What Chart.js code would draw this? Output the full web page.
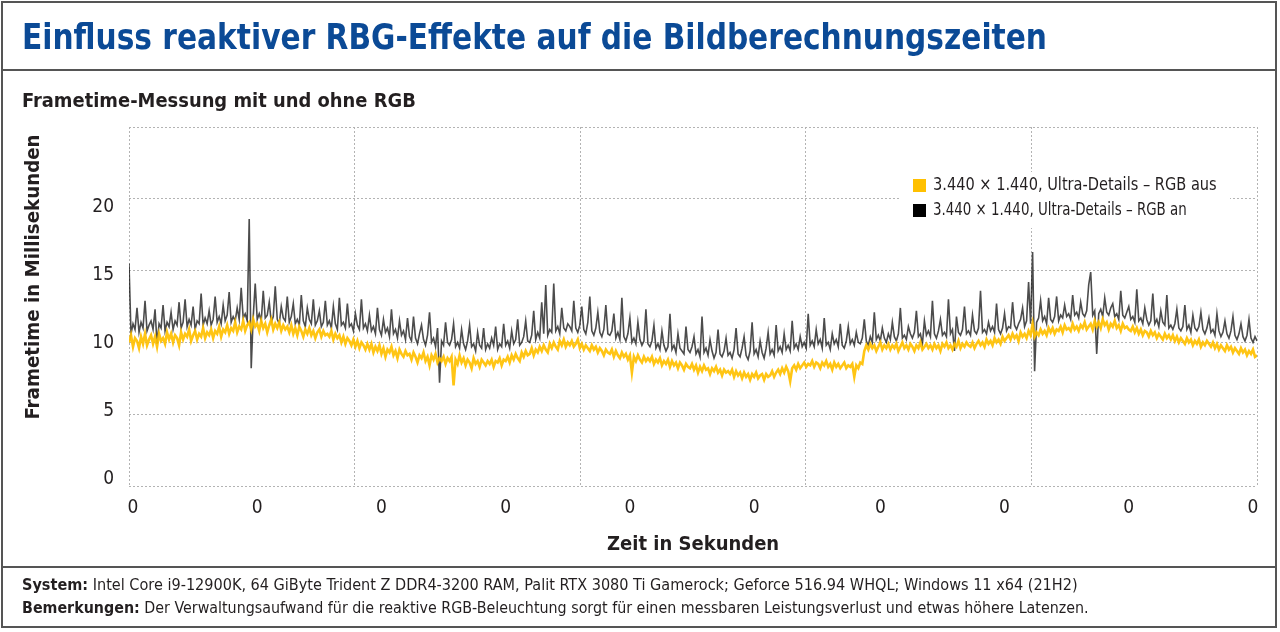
<!DOCTYPE html>
<html lang="de">
<head>
  <meta charset="UTF-8" />
  <title>Einfluss reaktiver RBG-Effekte auf die Bildberechnungszeiten</title>
  <script src="https://cdn.jsdelivr.net/npm/chart.js"></script>
  <style>
    body {
      margin: 0;
      width: 1280px;
      height: 632px;
      position: relative;
      overflow: hidden;
      background: #fff;
      font-family: "Liberation Sans Narrow", "DejaVu Sans Condensed", "Arial Narrow", sans-serif;
      color: #231f20;
    }
    .frame {
      position: absolute;
      left: 1px; top: 1px;
      width: 1276px; height: 627px;
      box-sizing: border-box;
      border: 2px solid #555;
    }
    .rule {
      position: absolute;
      left: 1px; width: 1276px; height: 2px;
      background: #555;
    }
    .txt {
      position: absolute;
      white-space: nowrap;
      line-height: 1;
      transform-origin: left center;
    }
    #title { left: 22px; top: 19px; font-size: 36px; font-weight: bold; color: #0b4a96; }
    #subtitle { left: 22px; top: 90px; font-size: 20px; font-weight: bold; }
    #yTitle { font-size: 20px; font-weight: bold; transform-origin: center center; }
    #xTitle { font-size: 20px; font-weight: bold; transform-origin: center center; }
    .foot { font-size: 16px; left: 22px; }
    .foot b { font-weight: bold; }
    #chart { position: absolute; left: 0; top: 0; }
    .legend {
      position: absolute;
      left: 900px; top: 172px;
      width: 330px; height: 56px;
      background: #fff;
    }
    .legend .sw {
      position: absolute;
      left: 13px;
      width: 13px; height: 13px;
    }
    .legend .txt { left: 33px; font-size: 17px; }
  </style>
</head>
<body>
  <canvas id="chart" width="1280" height="632"></canvas>

  <div class="frame"></div>
  <div class="rule" style="top:69px"></div>
  <div class="rule" style="top:566px"></div>

  <div id="title" class="txt" data-w="1025">Einfluss reaktiver RBG-Effekte auf die Bildberechnungszeiten</div>
  <div id="subtitle" class="txt" data-w="394">Frametime-Messung mit und ohne RGB</div>
  <div id="yTitle" class="txt" data-w="285" data-cx="31" data-cy="277" data-rot="1">Frametime in Millisekunden</div>
  <div id="xTitle" class="txt" data-w="172" data-cx="693" data-cy="543">Zeit in Sekunden</div>

  <div class="legend" id="legend"></div>

  <div class="txt foot" style="top:577px" data-w="1056"><b>System:</b> Intel Core i9-12900K, 64 GiByte Trident Z DDR4-3200 RAM, Palit RTX 3080 Ti Gamerock; Geforce 516.94 WHQL; Windows 11 x64 (21H2)</div>
  <div class="txt foot" style="top:600px" data-w="1067"><b>Bemerkungen:</b> Der Verwaltungsaufwand für die reaktive RGB-Beleuchtung sorgt für einen messbaren Leistungsverlust und etwas höhere Latenzen.</div>

  <script>
    // Frametimes in ms (one value per ~2 px, 20 per row)
    const rgbOffMs = [
      10.0, 10.5, 9.7, 10.3, 10.1, 9.6, 10.4, 9.9, 10.6, 9.8, 10.2, 10.5, 9.9, 10.4, 9.7, 10.6, 10.1, 10.3, 9.9, 10.7,
      10.2, 10.6, 10.0, 10.5, 10.3, 9.8, 10.7, 10.2, 10.6, 10.4, 10.9, 10.1, 10.5, 10.8, 10.2, 10.6, 10.4, 11.0, 10.3, 10.7,
      10.5, 10.9, 10.3, 10.8, 10.6, 11.1, 10.4, 10.9, 10.7, 11.2, 10.6, 11.0, 10.8, 11.4, 10.7, 11.1, 10.9, 11.5, 10.8, 11.2,
      11.4, 10.9, 11.6, 11.1, 11.3, 10.8, 11.5, 11.0, 11.3, 10.7, 11.2, 11.6, 10.9, 11.3, 11.0, 11.4, 10.8, 11.2, 10.9, 11.1,
      10.7, 11.2, 10.6, 11.0, 10.5, 11.1, 10.8, 10.4, 10.9, 10.6, 11.0, 10.5, 10.8, 10.3, 10.7, 10.9, 10.4, 10.8, 10.5, 10.6,
      10.4, 10.8, 10.2, 10.6, 10.3, 10.5, 10.0, 10.4, 9.9, 10.3, 10.1, 9.8, 10.2, 9.7, 10.1, 9.6, 10.0, 9.8, 9.5, 9.9,
      9.5, 9.9, 9.3, 9.7, 9.4, 9.8, 9.2, 9.6, 9.0, 9.5, 9.3, 9.7, 9.1, 9.4, 8.9, 9.5, 9.2, 9.0, 9.4, 9.1,
      9.2, 8.8, 9.3, 9.0, 8.6, 9.1, 8.9, 9.3, 8.7, 9.0, 8.4, 9.1, 8.8, 9.2, 8.6, 8.9, 8.7, 9.0, 8.5, 8.9,
      8.7, 9.0, 7.0, 8.8, 8.5, 9.1, 8.6, 8.9, 8.4, 8.8, 8.6, 8.2, 8.9, 8.5, 8.7, 8.3, 8.8, 8.6, 8.4, 8.7,
      8.5, 8.8, 8.3, 8.7, 8.6, 8.9, 8.4, 8.8, 8.7, 9.0, 8.6, 9.1, 8.8, 9.2, 8.9, 8.7, 9.3, 9.0, 9.4, 9.1,
      9.2, 9.6, 9.1, 9.5, 9.3, 9.7, 9.4, 9.8, 9.5, 9.3, 9.9, 9.6, 10.0, 9.7, 9.5, 10.1, 9.8, 10.2, 9.7, 10.0,
      9.8, 10.1, 9.7, 9.9, 10.2, 9.6, 9.9, 9.5, 9.8, 9.6, 9.4, 9.8, 9.5, 9.7, 9.3, 9.6, 9.4, 9.1, 9.5, 9.3,
      9.2, 9.5, 9.0, 9.4, 9.1, 8.9, 9.3, 9.0, 9.2, 8.8, 9.1, 7.9, 9.0, 8.7, 9.1, 8.8, 8.6, 9.0, 8.7, 8.9,
      8.7, 9.0, 8.5, 8.8, 8.6, 8.9, 8.4, 8.7, 8.5, 8.8, 8.3, 8.7, 8.4, 8.6, 8.2, 8.6, 8.4, 8.1, 8.5, 8.3,
      8.2, 8.5, 8.1, 8.4, 7.9, 8.3, 8.0, 8.4, 8.1, 8.2, 7.8, 8.2, 8.0, 8.3, 7.9, 8.1, 7.7, 8.1, 7.9, 8.0,
      7.8, 8.1, 7.6, 8.0, 7.7, 7.9, 7.5, 7.9, 7.6, 7.8, 7.4, 7.8, 7.6, 7.9, 7.5, 7.7, 7.8, 7.4, 7.8, 7.6,
      7.7, 8.0, 7.6, 7.9, 8.1, 7.8, 8.2, 7.9, 8.3, 8.0, 7.3, 8.2, 8.4, 8.1, 8.5, 8.2, 8.4, 8.6, 8.3, 8.5,
      8.4, 8.7, 8.3, 8.6, 8.5, 8.2, 8.6, 8.4, 8.7, 8.3, 8.5, 8.1, 8.6, 8.3, 8.5, 8.2, 8.4, 8.6, 8.2, 8.4,
      8.3, 8.5, 7.6, 8.4, 8.2, 8.6, 8.5, 9.4, 9.8, 9.5, 9.9, 9.6, 9.8, 9.4, 9.7, 10.0, 9.5, 9.8, 9.6, 9.9,
      9.5, 9.8, 9.6, 9.9, 9.4, 9.7, 10.0, 9.6, 9.8, 9.5, 9.9, 9.7, 9.4, 9.8, 9.6, 10.0, 9.5, 9.7, 9.9, 9.6,
      9.8, 9.5, 9.9, 9.6, 9.8, 9.4, 9.9, 9.7, 10.0, 9.6, 9.8, 9.5, 9.9, 9.7, 10.1, 9.6, 9.9, 9.7, 10.0, 9.8,
      9.7, 10.0, 9.6, 9.9, 10.1, 9.8, 10.0, 9.7, 10.2, 9.9, 10.1, 9.8, 10.3, 10.0, 10.2, 9.9, 10.4, 10.1, 10.3, 10.5,
      10.2, 10.6, 10.3, 10.5, 10.1, 10.7, 10.4, 10.6, 10.3, 10.8, 10.5, 11.3, 10.4, 10.7, 10.5, 10.9, 10.6, 10.8, 10.5, 11.0,
      10.7, 11.0, 10.6, 10.9, 10.8, 11.1, 10.7, 11.2, 10.9, 11.0, 10.8, 11.3, 10.9, 11.1, 10.8, 11.2, 11.0, 11.4, 10.9, 11.1,
      11.3, 10.9, 11.5, 11.1, 11.4, 11.0, 11.6, 11.2, 11.4, 10.9, 11.3, 11.1, 11.5, 11.0, 11.2, 10.8, 11.3, 11.0, 11.1, 10.9,
      10.8, 11.1, 10.7, 11.0, 10.6, 10.9, 10.5, 10.8, 10.7, 10.4, 10.8, 10.5, 10.7, 10.3, 10.6, 10.4, 10.2, 10.6, 10.3, 10.5,
      10.2, 10.5, 10.1, 10.4, 10.0, 10.3, 10.1, 9.9, 10.3, 10.0, 10.2, 9.8, 10.1, 9.9, 10.2, 9.7, 10.0, 9.8, 10.1, 9.9,
      9.7, 10.0, 9.6, 9.9, 9.5, 9.8, 9.6, 9.4, 9.8, 9.5, 9.7, 9.3, 9.6, 9.4, 9.2, 9.6, 9.3, 9.5, 9.1, 9.4,
      9.2, 9.5, 9.0, 9.1
    ];
    const rgbOnMs = [
      15.5, 10.6, 11.3, 10.9, 12.4, 10.7, 11.4, 11.0, 12.9, 10.8, 11.2, 11.5, 10.9, 12.3, 9.9, 11.3, 11.0, 12.6, 10.8, 11.4,
      11.1, 12.1, 10.9, 11.5, 11.2, 12.8, 11.0, 11.4, 13.0, 11.1, 11.6, 11.2, 12.5, 10.9, 11.5, 11.3, 13.4, 11.2, 11.7, 11.3,
      12.2, 11.2, 11.6, 13.2, 11.4, 11.8, 11.3, 12.6, 11.5, 11.9, 13.5, 11.4, 11.8, 11.5, 12.4, 11.6, 13.8, 11.7, 12.0, 11.5,
      18.6, 8.2, 11.8, 14.1, 11.6, 12.0, 11.5, 13.6, 11.7, 11.9, 12.8, 11.4, 11.8, 13.9, 11.6, 11.3, 12.5, 11.7, 11.5, 13.2,
      11.4, 11.8, 12.7, 11.3, 11.6, 11.2, 13.3, 11.5, 11.1, 12.4, 11.6, 11.3, 13.0, 11.2, 11.5, 12.2, 11.1, 11.4, 12.9, 11.2,
      11.5, 11.0, 12.5, 11.3, 10.9, 13.1, 11.2, 11.4, 11.0, 12.7, 11.1, 11.3, 10.8, 12.0, 11.2, 10.9, 13.0, 11.0, 11.3, 10.8,
      11.9, 10.8, 11.1, 10.6, 12.4, 10.9, 10.5, 11.6, 10.7, 11.0, 10.4, 12.3, 10.6, 10.9, 10.3, 11.5, 10.5, 10.8, 10.2, 11.7,
      10.4, 10.1, 11.8, 10.3, 9.9, 10.6, 11.2, 10.2, 9.8, 10.5, 12.1, 10.0, 10.3, 9.7, 11.0, 7.2, 10.1, 9.8, 11.4, 10.0,
      9.8, 10.2, 11.3, 9.7, 10.0, 9.6, 10.9, 9.9, 9.5, 10.1, 11.2, 9.7, 9.9, 9.4, 10.7, 9.8, 9.6, 11.0, 9.5, 9.9,
      9.6, 10.3, 9.8, 11.1, 9.5, 9.9, 9.7, 11.3, 9.8, 10.1, 9.6, 10.8, 9.9, 10.2, 11.6, 9.8, 10.0, 10.4, 11.5, 10.1,
      10.0, 10.5, 12.2, 10.2, 10.7, 10.3, 12.8, 10.6, 14.0, 10.5, 10.9, 10.7, 14.1, 10.8, 11.1, 10.6, 12.4, 11.0, 10.8, 11.3,
      11.1, 10.8, 12.9, 11.0, 10.7, 11.2, 12.5, 10.9, 10.6, 11.4, 13.2, 10.8, 10.5, 11.0, 12.1, 10.7, 10.4, 10.9, 12.6, 10.6,
      10.5, 10.8, 12.0, 10.3, 10.7, 10.2, 13.1, 10.4, 10.1, 10.6, 11.7, 10.0, 10.3, 9.9, 11.4, 10.2, 9.8, 10.1, 12.3, 9.9,
      9.7, 10.1, 11.2, 9.6, 9.9, 9.5, 10.8, 9.8, 9.4, 9.7, 12.0, 9.5, 9.8, 9.3, 10.6, 9.6, 9.4, 9.2, 11.1, 9.5,
      9.3, 9.7, 10.4, 9.2, 9.5, 9.0, 11.8, 9.3, 9.6, 9.1, 10.2, 9.4, 8.9, 9.3, 10.9, 9.2, 9.0, 9.4, 10.3, 9.1,
      9.3, 8.9, 9.5, 11.0, 9.2, 9.0, 9.6, 10.4, 9.1, 8.8, 9.4, 11.4, 9.2, 9.5, 9.0, 10.1, 9.3, 8.9, 9.6, 10.7,
      9.2, 9.5, 9.1, 11.2, 9.4, 9.7, 9.3, 10.6, 9.5, 9.8, 9.4, 11.5, 9.6, 9.9, 9.5, 10.4, 9.7, 10.0, 9.6, 12.0,
      9.8, 10.1, 9.7, 10.9, 9.9, 10.2, 9.6, 11.7, 9.8, 10.0, 9.5, 10.6, 9.9, 10.2, 9.7, 11.3, 9.8, 9.6, 10.1, 11.1,
      9.9, 10.2, 9.8, 10.7, 10.0, 9.9, 10.3, 11.6, 10.1, 9.8, 10.4, 10.0, 12.1, 10.2, 10.5, 10.1, 11.0, 10.3, 10.0, 10.6,
      10.2, 11.4, 10.4, 10.1, 10.6, 12.4, 10.3, 10.5, 10.2, 11.1, 10.6, 10.3, 10.7, 12.2, 10.4, 10.6, 9.9, 11.5, 10.5, 10.8,
      10.4, 12.9, 10.6, 10.3, 10.8, 11.6, 10.5, 10.7, 10.4, 13.0, 10.6, 10.9, 9.4, 11.8, 10.7, 10.5, 10.9, 12.5, 10.6, 10.8,
      10.5, 11.9, 10.8, 10.6, 11.0, 13.6, 10.7, 10.9, 10.6, 11.4, 10.8, 11.1, 10.7, 12.7, 10.9, 10.6, 11.0, 12.0, 10.8, 11.1,
      11.0, 12.8, 11.2, 10.9, 11.3, 11.6, 12.4, 11.1, 11.5, 14.2, 11.3, 16.3, 8.0, 11.4, 11.7, 12.9, 11.5, 11.8, 11.3, 13.1,
      11.6, 11.4, 11.8, 13.2, 11.5, 11.9, 11.7, 12.6, 11.8, 12.0, 11.6, 13.3, 11.9, 12.1, 11.7, 12.8, 12.0, 11.8, 12.2, 14.0,
      14.9, 11.9, 12.2, 9.2, 12.0, 12.3, 11.8, 13.1, 12.1, 11.9, 12.4, 12.7, 11.8, 12.0, 11.6, 13.6, 11.9, 11.7, 12.1, 12.5,
      11.6, 11.8, 11.4, 13.7, 11.5, 11.7, 11.3, 12.4, 11.6, 11.2, 11.5, 13.4, 11.3, 11.6, 11.1, 12.2, 11.4, 11.2, 13.3, 11.0,
      11.2, 10.9, 11.3, 12.3, 11.0, 10.8, 11.1, 12.6, 10.9, 11.2, 10.7, 11.9, 11.0, 10.8, 11.1, 12.1, 10.9, 10.6, 11.0, 11.7,
      10.7, 10.9, 10.5, 12.0, 10.8, 10.4, 10.7, 11.5, 10.6, 10.3, 10.8, 11.8, 10.5, 10.2, 10.6, 11.3, 10.4, 10.1, 10.5, 11.6,
      10.3, 10.0, 10.4, 10.1
    ];

    const seriesNames = [
      "3.440 × 1.440, Ultra-Details – RGB aus",
      "3.440 × 1.440, Ultra-Details – RGB an"
    ];
    const seriesColors = ["#ffc000", "#000000"];

    // y axis: gridlines every 5 ms up to 25, labels only 0..20
    const yGridValues = [0, 5, 10, 15, 20, 25];
    const yTickLabels = [0, 5, 10, 15, 20];
    // x axis: 5 grid intervals, 10 tick labels (all "0" in the original)
    const xGridFractions = [0, 0.2, 0.4, 0.6, 0.8, 1];
    const xTickFrames = [2, 64, 126, 188, 250, 312, 375, 437, 499, 561];
    const xTickLabels = ["0", "0", "0", "0", "0", "0", "0", "0", "0", "0"];

    const lastFrame = rgbOffMs.length - 1;
    const frames = rgbOffMs.map((_, i) => i);
    const FONT = '"Liberation Sans Narrow", "DejaVu Sans Condensed", "Arial Narrow", sans-serif';
    const gridColor = "#b3b3b3";

    new Chart(document.getElementById("chart"), {
      type: "line",
      data: {
        labels: frames,
        datasets: [
          {
            label: seriesNames[0],
            data: rgbOffMs,
            borderColor: "rgba(255,192,0,0.92)",
            borderWidth: 2.6,
            pointRadius: 0,
            tension: 0
          },
          {
            label: seriesNames[1],
            data: rgbOnMs,
            borderColor: "rgba(0,0,0,0.7)",
            borderWidth: 1.6,
            pointRadius: 0,
            tension: 0
          }
        ]
      },
      options: {
        responsive: false,
        animation: false,
        events: [],
        layout: { padding: { left: 89, top: 127, right: 23, bottom: 106 } },
        plugins: { legend: { display: false }, tooltip: { enabled: false } },
        scales: {
          x: {
            type: "linear",
            min: 0, max: lastFrame,
            afterBuildTicks: s => { s.ticks = xGridFractions.map(f => ({ value: f * lastFrame })); },
            afterFit: s => { s.height = 0; },
            ticks: { display: false },
            grid: { color: gridColor, drawTicks: false },
            border: { display: false, dash: [2, 2] }
          },
          xLabels: {
            type: "linear",
            position: "bottom",
            min: 0, max: lastFrame,
            afterBuildTicks: s => { s.ticks = xTickFrames.map(v => ({ value: v })); },
            afterFit: s => { s.height = 40; },
            ticks: {
              autoSkip: false,
              maxRotation: 0,
              padding: 11,
              color: "#231f20",
              font: { family: FONT, size: 19 },
              callback: (v, i) => xTickLabels[i]
            },
            grid: { display: false, drawTicks: false },
            border: { display: false }
          },
          y: {
            min: 0, max: 25,
            afterBuildTicks: s => { s.ticks = yGridValues.map(v => ({ value: v })); },
            afterFit: s => { s.width = 0; },
            ticks: { display: false },
            grid: { color: gridColor, drawTicks: false },
            border: { display: false, dash: [2, 2] }
          },
          yLabels: {
            position: "left",
            min: -0.51, max: 25.88,
            afterBuildTicks: s => { s.ticks = yTickLabels.map(v => ({ value: v })); },
            afterFit: s => { s.width = 40; },
            ticks: {
              padding: 15,
              color: "#231f20",
              font: { family: FONT, size: 19 }
            },
            grid: { display: false, drawTicks: false },
            border: { display: false }
          }
        }
      }
    });

    // legend box
    const legend = document.getElementById("legend");
    seriesNames.forEach((name, i) => {
      const cy = 13 + i * 25;
      legend.insertAdjacentHTML("beforeend",
        `<div class="sw" style="top:${cy - 6}px;background:${seriesColors[i]}"></div>` +
        `<div class="txt" style="top:${cy - 9}px" data-w="${i === 0 ? 284 : 254}">${name}</div>`);
    });

    // fit the condensed texts to the widths of the reference
    document.querySelectorAll("[data-w]").forEach(el => {
      const w = el.offsetWidth, h = el.offsetHeight;
      const k = el.dataset.w / w;
      if (el.dataset.cx) {
        el.style.left = (el.dataset.cx - w / 2) + "px";
        el.style.top = (el.dataset.cy - h / 2) + "px";
        el.style.transform = (el.dataset.rot ? "rotate(-90deg) " : "") + `scaleX(${k})`;
      } else {
        el.style.transform = `scaleX(${k})`;
      }
    });
  </script>
</body>
</html>
